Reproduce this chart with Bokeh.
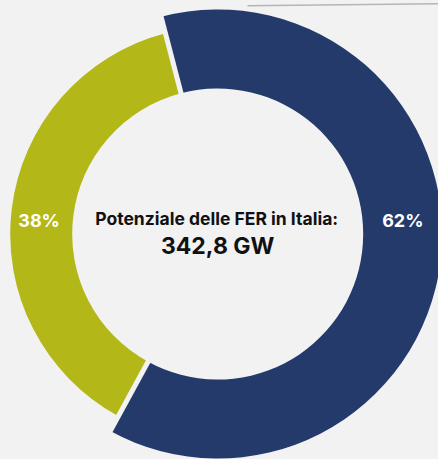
import numpy as np
from bokeh.plotting import figure
from bokeh.models import Range1d, ColumnDataSource
from bokeh.embed import file_html
from bokeh.resources import INLINE
from bokeh.core.properties import value

# ---- data ----
shares = [38, 62]
share_labels = ["38%", "62%"]
colors = ["#b3b818", "#233a6b"]
title_text = "Potenziale delle FER in Italia:"
total_text = "342,8 GW"

# ---- style ----
BG = "#f2f2f2"
W, H = 438, 459
cx, cy = 217.2, H - 233.5
inner_r = 145.5
outer_r = [207.5, 224.5]
label_shift = [2.5, 0.5]
start_deg = 104.6
FONT = "Inter"

fr = np.array(shares, dtype=float) / sum(shares)
ends = np.deg2rad(start_deg) + np.cumsum(fr) * 2 * np.pi
starts = ends - fr * 2 * np.pi
mids = (starts + ends) / 2

src = ColumnDataSource(dict(start=starts, end=ends, outer=outer_r, color=colors))

p = figure(width=W, height=H, x_range=Range1d(0, W), y_range=Range1d(0, H),
           output_backend="svg", toolbar_location=None, min_border=0)
p.axis.visible = False
p.grid.visible = False
p.outline_line_color = None
p.background_fill_color = BG
p.border_fill_color = BG

# thin decorative frame line at the top right
p.segment(x0=[247], y0=[H - 5.3], x1=[W], y1=[H - 3.3], line_color="#b5b5b5", line_width=1.5)

p.annular_wedge(x=cx, y=cy, inner_radius=inner_r, outer_radius="outer",
                start_angle="start", end_angle="end", direction="anticlock",
                fill_color="color", line_color=None, source=src)

# gaps between slices
p.ray(x=[cx] * len(starts), y=[cy] * len(starts), length=260, angle=list(starts),
      line_width=5, line_color=BG)

# percentage labels at mid ring radius
dy = 11.7
lx, ly = [], []
for m, ro, sh in zip(mids, outer_r, label_shift):
    rm = (inner_r + ro) / 2 + sh
    sgn = 1 if np.cos(m) > 0 else -1
    lx.append(cx + sgn * np.sqrt(rm ** 2 - dy ** 2))
    ly.append(cy + 13.5)
p.text(x=lx, y=ly, text=share_labels, text_align="center", text_baseline="alphabetic",
       text_color="white", text_font=value(FONT), text_font_style="bold",
       text_font_size="18px")

# center text
p.text(x=[cx - 1], y=[cy + 15.5], text=[title_text], text_align="center",
       text_baseline="alphabetic", text_color="#111111", text_font=value(FONT),
       text_font_style="bold", text_font_size="17.5px")
p.text(x=[cx], y=[cy - 11.5], text=[total_text], text_align="center",
       text_baseline="alphabetic", text_color="#111111", text_font=value(FONT),
       text_font_style="bold", text_font_size="23px")

html = file_html(p, INLINE)
html = html.replace("</head>",
                    "<style>html,body{margin:0;padding:0;overflow:hidden;background:#f2f2f2;}</style></head>", 1)
open("out.html", "w").write(html)
